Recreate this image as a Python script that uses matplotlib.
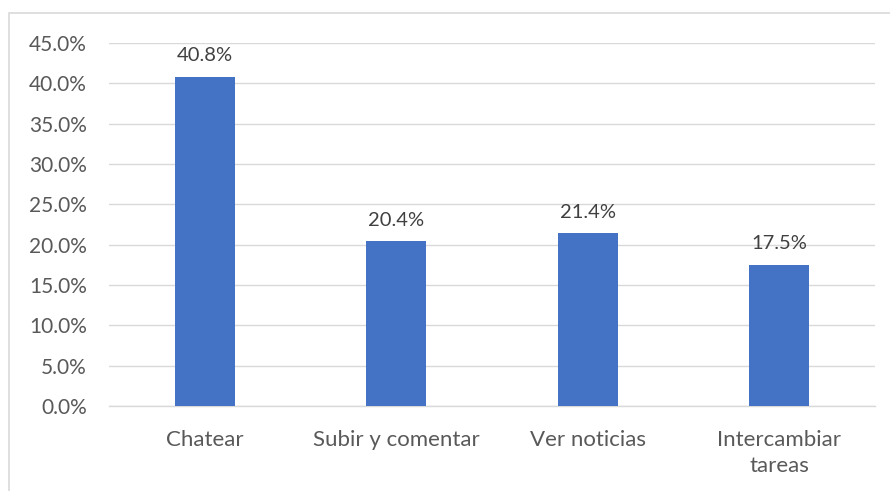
import numpy as np
import matplotlib
matplotlib.use('Agg')
from matplotlib import pyplot as plt
from matplotlib.patches import Rectangle
from matplotlib.ticker import FuncFormatter

categories = ['Chatear', 'Subir y comentar', 'Ver noticias', 'Intercambiar\ntareas']
values = [40.8, 20.4, 21.4, 17.5]
yticks = [0, 5, 10, 15, 20, 25, 30, 35, 40, 45]

plt.rcParams['font.family'] = ['Lato', 'DejaVu Sans']
text_color = '#595959'

fig = plt.figure(figsize=(8.9, 4.91), dpi=100)
# outer chart border
fig.patches.append(Rectangle((9/890, -0.1), 1.0, 0.9735 + 0.1, transform=fig.transFigure,
                             fill=False, edgecolor='#d9d9d9', linewidth=1.2))

ax = fig.add_axes([109/890, 1 - 406/491, (875 - 109)/890, (406 - 43)/491])
x = np.arange(len(categories))
bars = ax.bar(x, values, width=0.313, color='#4472c4', zorder=3)

for b, v in zip(bars, values):
    ax.annotate('%.1f%%' % v, (b.get_x() + b.get_width()/2, v), xytext=(0, 9),
                textcoords='offset points', ha='center', va='bottom',
                fontsize=14.5, color='#404040')

ax.set_xlim(-0.5, len(categories) - 0.5)
ax.set_ylim(0, 45)
ax.set_yticks(yticks)
ax.yaxis.set_major_formatter(FuncFormatter(lambda v, p: '%.1f%%' % v))
ax.set_xticks(x)
ax.set_xticklabels(categories, linespacing=1.4, fontsize=16)
ax.grid(axis='y', color='#d9d9d9', linewidth=1, zorder=0)
for s in ['top', 'right', 'left']:
    ax.spines[s].set_visible(False)
ax.spines['bottom'].set_color('#d9d9d9')
ax.spines['bottom'].set_linewidth(1)
ax.tick_params(axis='both', length=0, colors=text_color)
ax.tick_params(axis='y', pad=16, labelsize=15)
ax.tick_params(axis='x', pad=17)

fig.savefig('out.png', dpi=100)
